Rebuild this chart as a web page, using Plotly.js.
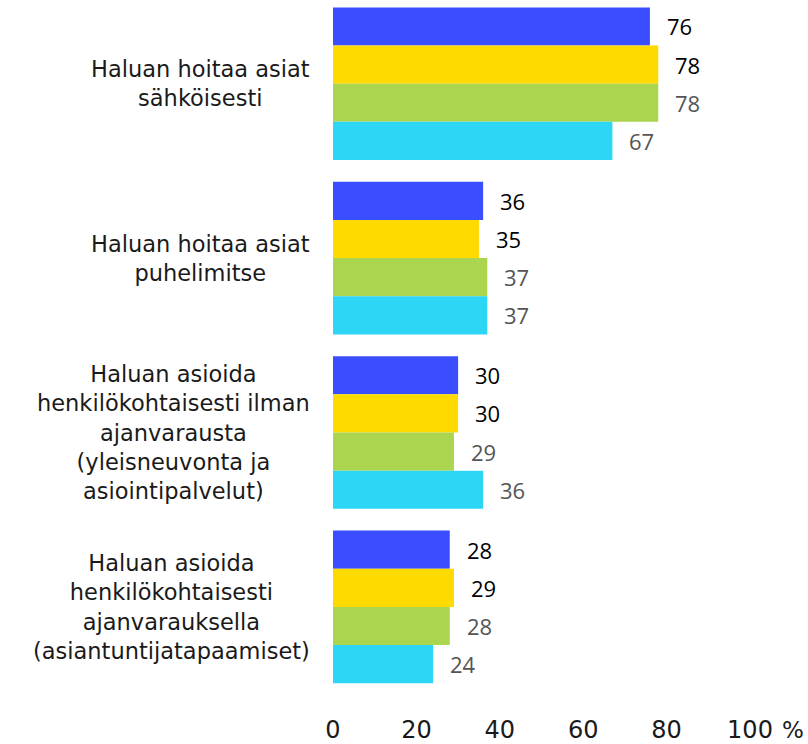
<!DOCTYPE html>
<html>
<head>
<meta charset="utf-8">
<script src="https://cdn.plot.ly/plotly-3.0.1.min.js"></script>
<style>html,body{margin:0;padding:0;background:#fff;}#chart{width:808px;height:744px;}</style>
</head>
<body>
<div id="chart"></div>
<script>
const categories = [
  "Haluan hoitaa asiat<br>sähköisesti",
  "Haluan hoitaa asiat<br>puhelimitse",
  "Haluan asioida<br>henkilökohtaisesti ilman<br>ajanvarausta<br>(yleisneuvonta ja<br>asiointipalvelut)",
  "Haluan asioida<br>henkilökohtaisesti<br>ajanvarauksella<br>(asiantuntijatapaamiset)"
];
const seriesNames = ["Sarja 1", "Sarja 2", "Sarja 3", "Sarja 4"];
const series1 = [76, 36, 30, 28];
const series2 = [78, 35, 30, 29];
const series3 = [78, 37, 29, 28];
const series4 = [67, 37, 36, 24];
const xTicks = [0, 20, 40, 60, 80, 100];
const unitLabel = "%";

const allSeries = [series1, series2, series3, series4];
const colors = ["#3a4eff", "#ffda00", "#abd44f", "#2ed6f5"];
const labelColors = ["#000000", "#000000", "#555555", "#555555"];
const bargap = 0.125;
const nS = allSeries.length;
const barW = (1 - bargap) / nS;

const traces = allSeries.map((vals, i) => ({
  type: "bar",
  orientation: "h",
  name: seriesNames[i],
  x: vals,
  y: categories.map((c, k) => k),
  marker: {color: colors[i]},
  hoverinfo: "x"
}));

const annotations = [];
allSeries.forEach((vals, i) => {
  const off = -(1 - bargap) / 2 + barW * (i + 0.5);
  vals.forEach((v, k) => {
    annotations.push({
      x: v, y: k + off, xref: "x", yref: "y",
      text: String(v), showarrow: false,
      xanchor: "left", yanchor: "middle", xshift: 15,
      font: {family: "Open Sans, sans-serif", size: 22, color: labelColors[i]}
    });
  });
});
categories.forEach((c, k) => {
  annotations.push({
    x: 0, y: k, xref: "paper", yref: "y",
    text: c, showarrow: false, align: "center",
    xanchor: "right", yanchor: "middle", xshift: -21,
    font: {family: "DejaVu Sans, sans-serif", size: 22.5, color: "#1a1a1a"}
  });
});
annotations.push({
  x: 1, y: 0, xref: "paper", yref: "paper",
  text: unitLabel, showarrow: false,
  xanchor: "center", yanchor: "top", xshift: 43, yshift: -15,
  font: {family: "DejaVu Sans, sans-serif", size: 23, color: "#1a1a1a"}
});

const layout = {
  width: 808, height: 744,
  margin: {l: 333, r: 58, t: 0, b: 44},
  paper_bgcolor: "#ffffff", plot_bgcolor: "#ffffff",
  barmode: "group", bargap: bargap, bargroupgap: 0,
  showlegend: false,
  xaxis: {
    range: [0, 100], tickvals: xTicks, ticktext: xTicks.map(String),
    showgrid: false, zeroline: false, showline: false, ticks: "",
    ticklabelstandoff: 13,
    tickfont: {family: "DejaVu Sans, sans-serif", size: 24, color: "#1a1a1a"}
  },
  yaxis: {
    range: [3.534, -0.48], showticklabels: false, showgrid: false,
    zeroline: false, showline: false, ticks: ""
  },
  annotations: annotations
};

Plotly.newPlot("chart", traces, layout, {displayModeBar: false, staticPlot: true});
</script>
</body>
</html>
